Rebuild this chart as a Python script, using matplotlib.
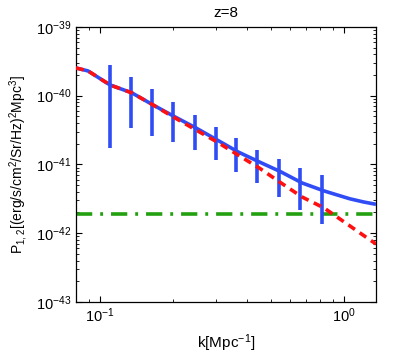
import numpy as np
import matplotlib
matplotlib.use("Agg")
import matplotlib.pyplot as plt
from matplotlib.ticker import FixedLocator, NullFormatter

plt.rcParams["font.family"] = ["Liberation Sans", "DejaVu Sans"]
plt.rcParams["mathtext.default"] = "regular"

# bin centres and measured points with error ranges
k_bins = [0.110, 0.134, 0.164, 0.200, 0.245, 0.300, 0.360, 0.440, 0.540, 0.660, 0.810]
p_bins = [1.43e-40, 1.10e-40, 7.33e-41, 4.91e-41, 3.40e-41, 2.27e-41,
          1.52e-41, 1.09e-41, 7.78e-42, 5.38e-42, 4.12e-42]
p_hi = [2.80e-40, 1.87e-40, 1.25e-40, 8.11e-41, 5.25e-41, 3.51e-41,
        2.43e-41, 1.63e-41, 1.20e-41, 8.89e-42, 7.03e-42]
p_lo = [1.74e-41, 3.40e-41, 2.60e-41, 2.12e-41, 1.63e-41, 1.16e-41,
        7.78e-42, 5.38e-42, 3.37e-42, 2.18e-42, 1.36e-42]

# total (signal + shot) curve
k_tot = [0.0797, 0.0893, 0.110, 0.135, 0.165, 0.203, 0.247, 0.302, 0.368,
         0.449, 0.552, 0.673, 0.828, 0.930, 1.058, 1.200, 1.352]
p_tot = [2.53e-40, 2.29e-40, 1.43e-40, 1.10e-40, 7.33e-41, 4.91e-41, 3.40e-41,
         2.27e-41, 1.52e-41, 1.09e-41, 7.78e-42, 5.38e-42, 4.12e-42, 3.63e-42,
         3.16e-42, 2.85e-42, 2.63e-42]

# clustering term
k_cl = [0.0797, 0.0893, 0.110, 0.135, 0.165, 0.203, 0.247, 0.302, 0.368,
        0.449, 0.552, 0.673, 0.828, 1.278, 1.352]
p_cl = [2.53e-40, 2.29e-40, 1.43e-40, 1.10e-40, 7.33e-41, 4.74e-41, 3.18e-41,
        2.12e-41, 1.37e-41, 8.89e-42, 5.38e-42, 3.36e-42, 2.33e-42, 7.98e-43,
        6.98e-43]

# shot noise level
p_shot = 1.9e-42

x_major = [0.1, 1.0]
x_minor = [0.08, 0.09, 0.2, 0.3, 0.4, 0.5, 0.6, 0.7, 0.8, 0.9]
y_major = [1e-43, 1e-42, 1e-41, 1e-40, 1e-39]

fig = plt.figure(figsize=(4.15, 3.54), dpi=100)
ax = fig.add_axes([0.183, 0.147, 0.723, 0.777])

ax.plot(k_tot, p_tot, color="#2f4cf5", lw=2.6, solid_capstyle="butt", zorder=3)
ax.plot(k_cl, p_cl, color="#ff1010", lw=2.6, dashes=(2.2, 1.6), zorder=4)
ax.axhline(p_shot, color="#22a010", lw=2.6, dashes=(4.5, 2.2, 0.8, 2.2), zorder=2)

yerr = [np.array(p_bins) - np.array(p_lo), np.array(p_hi) - np.array(p_bins)]
ax.errorbar(k_bins, p_bins, yerr=yerr, fmt="none", ecolor="#2f4cf5",
            elinewidth=2.6, capsize=0, zorder=3)

ax.set_xscale("log")
ax.set_yscale("log")
ax.set_xlim(0.0797, 1.352)
ax.set_ylim(1e-43, 1e-39)

ax.xaxis.set_major_locator(FixedLocator(x_major))
ax.xaxis.set_minor_locator(FixedLocator(x_minor))
ax.xaxis.set_minor_formatter(NullFormatter())
ax.yaxis.set_major_locator(FixedLocator(y_major))
y_minor = [m * d for d in y_major[:-1] for m in range(2, 10)]
ax.yaxis.set_minor_locator(FixedLocator(y_minor))
ax.yaxis.set_minor_formatter(NullFormatter())

ax.tick_params(which="both", direction="in", top=True, right=True, labelsize=10.5)
ax.tick_params(which="major", length=4)
ax.tick_params(which="minor", length=2)
for s in ax.spines.values():
    s.set_linewidth(0.9)

ax.set_title("z=8", fontsize=11, pad=7)
ax.set_xlabel("k[Mpc$^{-1}$]", fontsize=11, labelpad=5)
ax.set_ylabel("P$_{1,2}$[(erg/s/cm$^2$/Sr/Hz)$^2$Mpc$^3$]", fontsize=10, labelpad=4)

fig.savefig("out.png", dpi=100)
